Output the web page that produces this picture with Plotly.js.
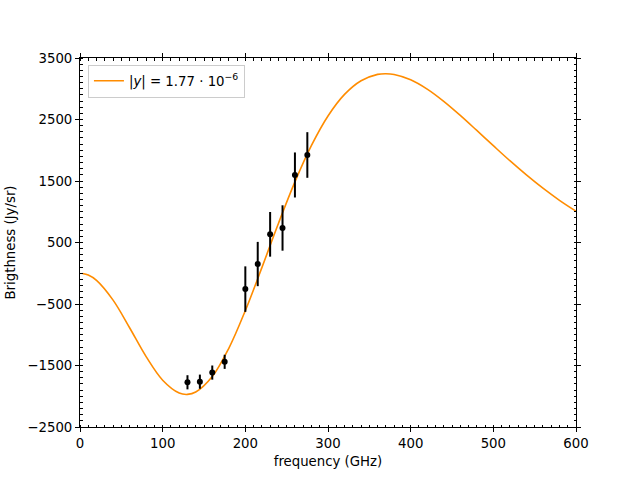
<!DOCTYPE html>
<html>
<head>
<meta charset="utf-8">
<script src="https://cdn.plot.ly/plotly-3.0.1.min.js"></script>
<style>html,body{margin:0;padding:0;background:#fff;}#chart{width:640px;height:480px;}</style>
</head>
<body>
<div id="chart"></div>
<script>
// Model curve
var curveFreq = [3, 10, 20, 40, 60, 80, 100, 120, 130, 140, 160, 180, 200, 220, 240, 260, 280, 300, 320, 340, 360, 370, 380, 400, 420, 440, 460, 480, 500, 520, 540, 560, 580, 600];
var curveBright = [-3, -30, -116, -437, -886, -1356, -1739, -1948, -1970, -1932, -1680, -1221, -608, 91, 810, 1486, 2078, 2557, 2908, 3130, 3234, 3245, 3233, 3147, 2995, 2796, 2567, 2322, 2074, 1830, 1599, 1383, 1186, 1009];

// Measurements
var dataFreq = [130, 145, 160, 175, 200, 215, 230, 245, 260, 275];
var dataBright = [-1773, -1763, -1615, -1440, -258, 150, 633, 736, 1598, 1923];
var dataErr = [115, 115, 115, 115, 370, 360, 363, 369, 366, 371];

var legendLabel = "|<i>y</i>| = 1.77 · 10<sup>−6</sup>";
var xTitle = "frequency (GHz)";
var yTitle = "Brigthness (Jy/sr)";

var traces = [
  {
    x: curveFreq, y: curveBright, type: 'scatter', mode: 'lines',
    line: {color: '#ff8c00', width: 1.6, shape: 'spline', smoothing: 1},
    name: legendLabel, showlegend: true
  },
  {
    x: dataFreq, y: dataBright, type: 'scatter', mode: 'markers',
    marker: {color: 'black', size: 6},
    error_y: {type: 'data', array: dataErr, visible: true, color: 'black', thickness: 2, width: 0},
    showlegend: false
  }
];

var axisCommon = {
  showgrid: false, zeroline: false, showline: true, linecolor: 'black', linewidth: 1,
  mirror: 'allticks', ticks: 'outside', ticklen: 4, tickwidth: 1, tickcolor: 'black',
  tickfont: {family: 'DejaVu Sans', size: 13.3, color: 'black'}
};

var layout = {
  width: 640, height: 480,
  margin: {l: 80, r: 64, t: 58, b: 53},
  paper_bgcolor: 'white', plot_bgcolor: 'white',
  font: {family: 'DejaVu Sans', color: 'black'},
  xaxis: Object.assign({}, axisCommon, {
    range: [0, 600], tick0: 0, dtick: 100,
    minor: {dtick: 10, ticks: 'inside', ticklen: 2.5, tickwidth: 1, tickcolor: 'black', showgrid: false},
    title: {text: xTitle, font: {family: 'DejaVu Sans', size: 13.3, color: 'black'}, standoff: 6}
  }),
  yaxis: Object.assign({}, axisCommon, {
    range: [-2500, 3500], tick0: -2500, dtick: 1000,
    minor: {dtick: 100, ticks: 'inside', ticklen: 2.5, tickwidth: 1, tickcolor: 'black', showgrid: false},
    title: {text: yTitle, font: {family: 'DejaVu Sans', size: 13.3, color: 'black'}, standoff: 8}
  }),
  legend: {
    x: 0.016, y: 0.982, xanchor: 'left', yanchor: 'top',
    bgcolor: 'rgba(255,255,255,0.8)', bordercolor: '#cccccc', borderwidth: 1,
    font: {family: 'DejaVu Sans', size: 13.3, color: 'black'}
  },
  showlegend: true
};

Plotly.newPlot('chart', traces, layout, {staticPlot: true, displayModeBar: false});
</script>
</body>
</html>
